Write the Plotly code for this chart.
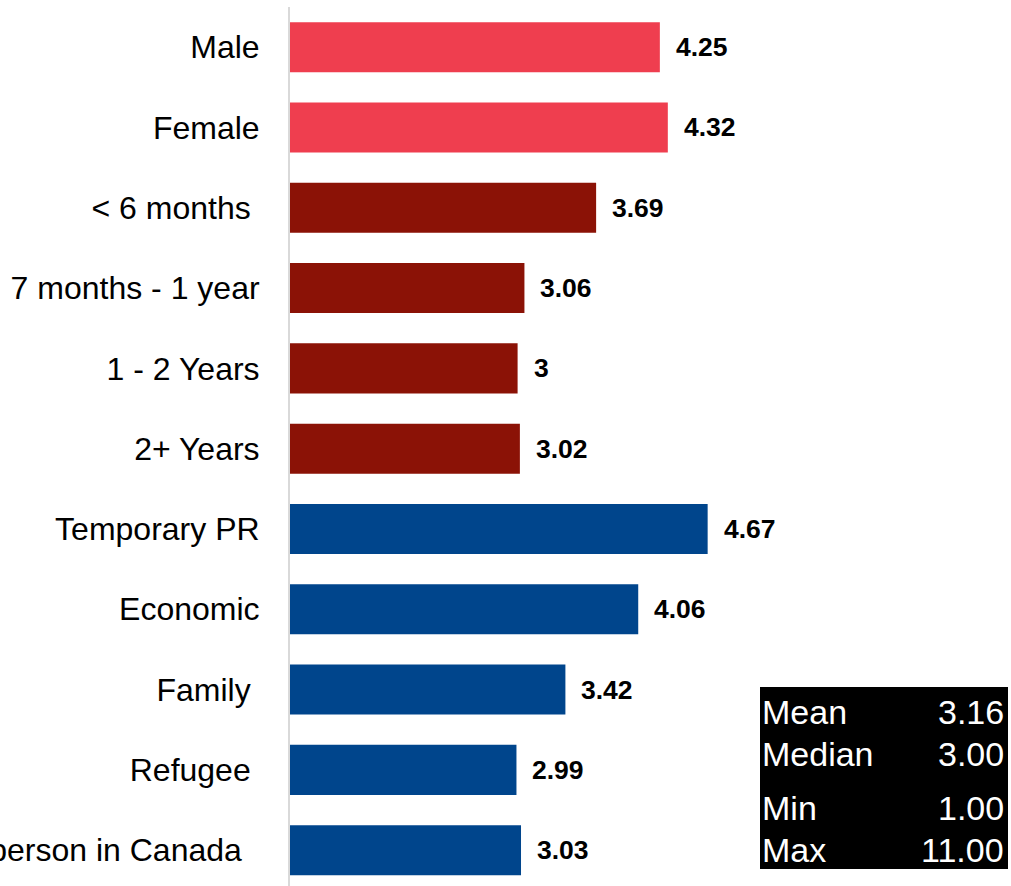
import plotly.graph_objects as go

# categories top to bottom (trailing spaces as in the source labels)
categories = [
    "Male",
    "Female",
    "< 6 months ",
    "7 months - 1 year",
    "1 - 2 Years",
    "2+ Years",
    "Temporary PR",
    "Economic",
    "Family ",
    "Refugee ",
    "Protected person in Canada  ",
]
values = [4.25, 4.32, 3.69, 3.06, 3.00, 3.02, 4.67, 4.06, 3.42, 2.99, 3.03]
groups = ["gender", "gender", "time", "time", "time", "time",
          "class", "class", "class", "class", "class"]
group_colors = {"gender": "#EF3E4F", "time": "#8B1206", "class": "#00458C"}

stat_names = ["Mean", "Median", "Min", "Max"]
stat_values = [3.16, 3.00, 1.00, 11.00]

W, H = 1011, 886
ML, MT = 290, 7
PW, PH = W - ML, H - MT

FONT = "Liberation Sans, Arial, sans-serif"


def px_x(px):
    return (px - ML) / PW


def px_y(py):
    return (H - py) / PH


fig = go.Figure()
fig.add_trace(
    go.Bar(
        x=values,
        y=categories,
        orientation="h",
        marker=dict(color=[group_colors[g] for g in groups], line=dict(width=0)),
        hoverinfo="x+y",
    )
)

annotations = []
for cat, v in zip(categories, values):
    annotations.append(
        dict(
            x=v, y=cat, xref="x", yref="y",
            text=f"<b>{v:g}</b>",
            showarrow=False, xanchor="left", xshift=14,
            font=dict(family=FONT, size=26.5, color="#000000"),
        )
    )

# stats box
stat_rows_y = [711.5, 754, 808, 850]
for name, val, py in zip(stat_names, stat_values, stat_rows_y):
    annotations.append(
        dict(
            x=px_x(760), y=px_y(py), xref="paper", yref="paper",
            text=name, showarrow=False, xanchor="left", yanchor="middle",
            font=dict(family=FONT, size=34, color="white"),
        )
    )
    annotations.append(
        dict(
            x=px_x(1006), y=px_y(py), xref="paper", yref="paper",
            text=f"{val:.2f}", showarrow=False, xanchor="right", yanchor="middle",
            font=dict(family=FONT, size=34, color="white"),
        )
    )

fig.update_layout(
    width=W,
    height=H,
    template="none",
    margin=dict(l=ML, r=0, t=MT, b=0, autoexpand=False),
    paper_bgcolor="white",
    plot_bgcolor="white",
    showlegend=False,
    bargap=0.377,
    annotations=annotations,
    shapes=[
        dict(
            type="rect", xref="paper", yref="paper",
            x0=px_x(760), x1=px_x(1008), y0=px_y(869), y1=px_y(687),
            fillcolor="black", line=dict(width=0), layer="above",
        )
    ],
    xaxis=dict(
        range=[1, 1 + PW / 113.8],
        visible=False,
        showgrid=False,
        zeroline=False,
        automargin=False,
    ),
    yaxis=dict(
        type="category",
        categoryorder="array",
        categoryarray=categories,
        range=[10.446, -0.5],
        showgrid=False,
        zeroline=False,
        showline=True,
        linecolor="#D9D9D9",
        linewidth=2,
        ticks="",
        ticklabelstandoff=22,
        tickfont=dict(family=FONT, size=32, color="#000000"),
        automargin=False,
    ),
)

fig.write_html(
    "out.html",
    config={"displayModeBar": False},
    post_script="document.body.style.margin='0';document.body.style.overflow='hidden';",
)
